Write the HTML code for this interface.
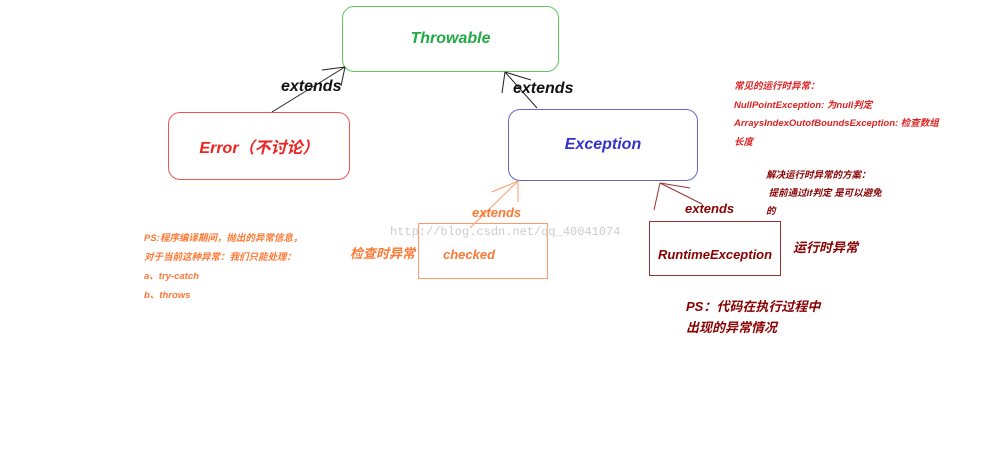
<html><head><style>
body{margin:0;width:1000px;height:449px;background:#fff;position:relative;overflow:hidden;font-family:"Liberation Sans","Noto Sans CJK SC",sans-serif;font-style:italic;font-weight:bold}
.b{position:absolute;box-sizing:border-box;display:flex;align-items:center;justify-content:center}
.t{position:absolute;white-space:nowrap}
</style></head><body>
<div class="b" style="left:342px;top:6px;width:217px;height:66px;border:1px solid #5c5;border-radius:12px;color:#2a4;font-size:16px">Throwable</div>
<div class="b" style="left:168px;top:112px;width:182px;height:68px;border:1px solid #e55;border-radius:12px;color:#e22;font-size:16px">Error（不讨论）</div>
<div class="b" style="left:508px;top:109px;width:190px;height:72px;border:1px solid #66c;border-radius:12px;color:#33c;font-size:16px">Exception</div>
<div class="b" style="left:418px;top:223px;width:130px;height:56px;border:1px solid #f96;color:#f73;font-size:13px;justify-content:flex-start;padding-left:24px;padding-top:6px">checked</div>
<div class="b" style="left:649px;top:221px;width:132px;height:55px;border:1px solid #933;color:#800;font-size:13px;padding-top:12px">RuntimeException</div>
<svg style="position:absolute;left:0;top:0" width="1000" height="449">
<g stroke="#222" stroke-width="1" fill="none">
<path d="M272 112L345 67M345 67L322 70M345 67L341 86"/>
<path d="M537 108L505 72M505 72L531 80M505 72L502 93"/>
</g>
<g stroke="#f96" fill="none"><path d="M470 228L518 181M518 181L492 192M518 181L518 202"/></g>
<g stroke="#933" fill="none"><path d="M702 204L660 183M660 183L690 188M660 183L654 210"/></g>
</svg>
<div class="t" style="left:281px;top:78px;font-size:16px;color:#111">extends</div>
<div class="t" style="left:513px;top:80px;font-size:16px;color:#111">extends</div>
<div class="t" style="left:472px;top:205px;font-size:13px;color:#f73">extends</div>
<div class="t" style="left:685px;top:201px;font-size:13px;color:#800">extends</div>
<div class="t" style="left:350px;top:243px;font-size:13px;color:#f73">检查时异常</div>
<div class="t" style="left:793px;top:237px;font-size:13px;color:#800">运行时异常</div>
<div class="t" style="left:390px;top:225px;font-size:12px;color:#ccc;font-family:'Liberation Mono',monospace;font-style:normal;font-weight:normal">http://blog.csdn.net/qq_40041074</div>
<div class="t" style="left:144px;top:229px;font-size:9.5px;color:#f73;line-height:19px">PS:程序编译期间，抛出的异常信息，<br>对于当前这种异常：我们只能处理：<br>a、try-catch<br>b、throws</div>
<div class="t" style="left:734px;top:78px;font-size:9.5px;color:#d22;line-height:18.5px">常见的运行时异常：<br>NullPointException: 为null判定<br>ArraysIndexOutofBoundsException: 检查数组<br>长度</div>
<div class="t" style="left:766px;top:167px;font-size:9.5px;color:#800;line-height:18px">解决运行时异常的方案：<br>&nbsp;提前通过if判定 是可以避免<br>的</div>
<div class="t" style="left:686px;top:296px;font-size:13px;color:#800;line-height:21px">PS：代码在执行过程中<br>出现的异常情况</div>
</body></html>
